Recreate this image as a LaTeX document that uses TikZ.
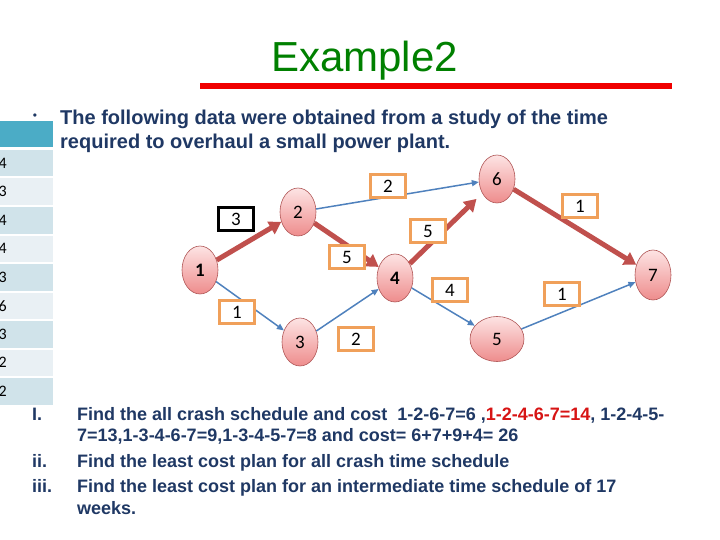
\documentclass[tikz,border=0pt]{standalone}
\usepackage{fontspec}
\setmainfont{Liberation Sans}
\newfontfamily\calfont{Carlito}
\usepackage{xcolor}
\usetikzlibrary{arrows.meta,shapes.geometric}
\definecolor{ttlgreen}{RGB}{0,128,0}
\definecolor{ttlred}{RGB}{240,0,0}
\definecolor{txtblue}{RGB}{31,56,100}
\definecolor{ptred}{RGB}{215,20,20}
\definecolor{critred}{RGB}{192,80,77}
\definecolor{linkblue}{RGB}{79,129,189}
\definecolor{durorange}{RGB}{240,160,90}
\definecolor{evtline}{RGB}{175,85,85}
\definecolor{evttop}{RGB}{253,228,228}
\definecolor{evtbot}{RGB}{238,140,140}
\definecolor{hdrteal}{RGB}{75,172,198}
\definecolor{rowdark}{RGB}{208,227,234}
\definecolor{rowlight}{RGB}{233,240,244}

\begin{document}
\begin{tikzpicture}[
  x=1pt, y=-1pt,
  evt/.style={ellipse, draw=evtline, line width=0.6pt, top color=evttop, bottom color=evtbot, minimum width=36pt, minimum height=48pt, inner sep=0pt, font=\calfont\fontsize{19}{19}\selectfont},
  dur/.style={draw=durorange, line width=3pt, fill=white, minimum width=35pt, minimum height=23pt, inner sep=0pt, font=\calfont\fontsize{19}{19}\selectfont},
  crit/.style={-{Triangle[length=12pt, width=14pt]}, line width=5pt, draw=critred},
  link/.style={-{Triangle[length=7pt, width=6pt]}, line width=1.5pt, draw=linkblue},
  txt/.style={anchor=base west, inner sep=0pt, text=txtblue, font=\bfseries\fontsize{20}{24}\selectfont},
  item/.style={txt, font=\bfseries\fontsize{18}{22}\selectfont},
  cell/.style={anchor=east, inner sep=0pt, font=\calfont\fontsize{16}{16}\selectfont}
]
  \useasboundingbox (0,0) rectangle (720,540);

  % title
  \node[anchor=base west, inner sep=0pt, text=ttlgreen, font=\fontsize{42}{42}\selectfont] (ttl) at (271,72) {Example2};
  \draw[ttlred, line width=6pt] (200,86.5) -- (672,86.5);

  % table cut off by the slide edge
  \begin{scope}
    \clip (0,0) rectangle (53,410);
    \fill[hdrteal] (-20,121) rectangle (53,147);
    \foreach \v/\c [count=\i] in {4/rowdark,3/rowlight,4/rowdark,4/rowlight,3/rowdark,6/rowlight,3/rowdark,2/rowlight,2/rowdark} {
      \fill[\c] (-20,{150+(\i-1)*28.5}) rectangle (53,{176.5+(\i-1)*28.5});
      \node[cell] (c\i) at (7,{163.25+(\i-1)*28.5}) {\v};
    }
  \end{scope}

  \node[text=txtblue, inner sep=0pt, font=\fontsize{12}{12}\selectfont] (blt) at (35,117) {\textbullet};
  \node[txt] (q1) at (60,125) {The following data were obtained from a study of the time};
  \node[txt] (q2) at (60,149) {required to overhaul a small power plant.};

  \node[evt, font=\calfont\bfseries\fontsize{19}{19}\selectfont] (n1) at (200,270) {1};
  \node[evt] (n2) at (298,212) {2};
  \node[evt] (n3) at (300,342) {3};
  \node[evt, font=\calfont\bfseries\fontsize{19}{19}\selectfont] (n4) at (395,278) {4};
  \node[evt, minimum width=54pt, minimum height=45pt] (n5) at (497,339) {5};
  \node[evt] (n6) at (497,179) {6};
  \node[evt, minimum height=50pt] (n7) at (653,275) {7};

  \draw[crit] (n1) -- (n2);
  \draw[link] (n1) -- (n3);
  \draw[link] (n2) -- (n6);
  \draw[crit] (n2) -- (n4);
  \draw[link] (n3) -- (n4);
  \draw[crit, shorten >=8pt] (n4) -- (n6);
  \draw[link] (n4) -- (n5);
  \draw[crit] (n6) -- (n7);
  \draw[link] (n5) -- (n7);

  \node[dur, draw=black] (d12) at (236,219) {3};
  \node[dur] (d13) at (237,312) {1};
  \node[dur] (d26) at (388,186) {2};
  \node[dur] (d24) at (347,257) {5};
  \node[dur] (d34) at (356,339) {2};
  \node[dur] (d46) at (428,231) {5};
  \node[dur] (d45) at (450,290) {4};
  \node[dur] (d67) at (580,206) {1};
  \node[dur] (d57) at (562,294) {1};

  \node[item] (m1) at (32,420) {I.};
  \node[item] (l1) at (77,420) {Find the all crash schedule and cost\ \ 1-2-6-7=6 ,\textcolor{ptred}{1-2-4-6-7=14}, 1-2-4-5-};
  \node[item] (l2) at (77,441) {7=13,1-3-4-6-7=9,1-3-4-5-7=8 and cost= 6+7+9+4= 26};
  \node[item] (m2) at (32,467) {ii.};
  \node[item] (l3) at (77,467) {Find the least cost plan for all crash time schedule};
  \node[item] (m3) at (32,492) {iii.};
  \node[item] (l4) at (77,492) {Find the least cost plan for an intermediate time schedule of 17};
  \node[item] (l5) at (77,514) {weeks.};
\end{tikzpicture}
\end{document}
